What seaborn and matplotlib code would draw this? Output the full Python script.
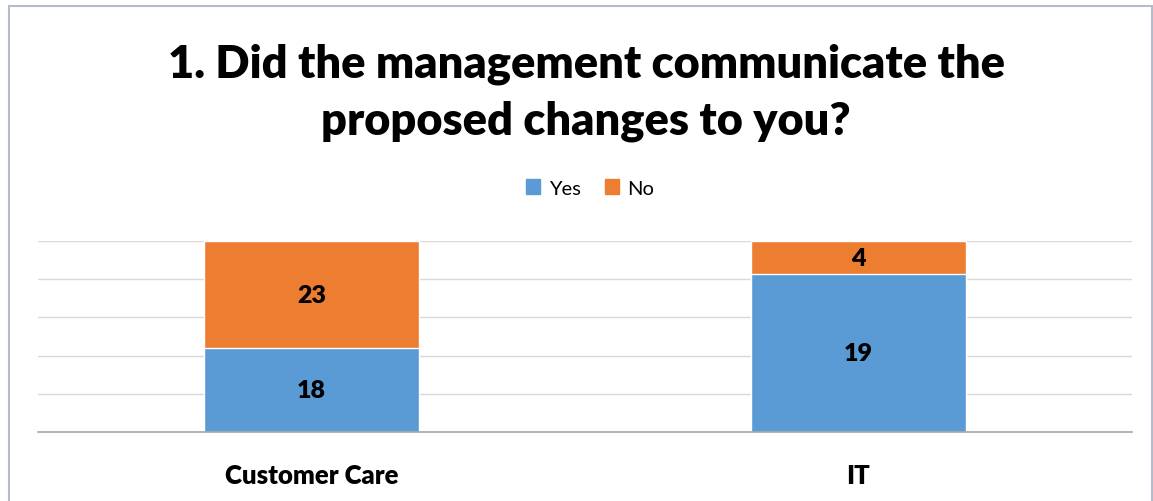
import matplotlib
matplotlib.use("Agg")
import matplotlib.pyplot as plt
import seaborn as sns
import pandas as pd
from matplotlib.patches import Rectangle

# survey counts
departments = ["Customer Care", "IT"]
yes_counts = [18, 19]
no_counts = [23, 4]

df = pd.DataFrame({"dept": departments, "yes": yes_counts, "no": no_counts})
df["total"] = df["yes"] + df["no"]
df["yes_pct"] = df["yes"] / df["total"] * 100
df["all_pct"] = (df["yes"] + df["no"]) / df["total"] * 100

sns.set_style("white")
plt.rcParams["font.family"] = ["Lato", "DejaVu Sans"]
plt.rcParams["text.color"] = "black"
plt.rcParams["xtick.color"] = "black"

blue = "#5B9BD5"
orange = "#ED7D31"

fig = plt.figure(figsize=(11.53, 5.02), dpi=100)
ax = fig.add_axes([38 / 1153, 1 - 433 / 502, (1132 - 38) / 1153, (433 - 242) / 502])

# orange = full stack, blue drawn over it
sns.barplot(data=df, x="dept", y="all_pct", color=orange, width=0.393,
            saturation=1, edgecolor="white", linewidth=1, ax=ax)
sns.barplot(data=df, x="dept", y="yes_pct", color=blue, width=0.393,
            saturation=1, edgecolor="white", linewidth=1, ax=ax)

ax.set_ylim(0, 100)
ax.set_xlim(-0.5, 1.5)
ax.set_yticks([0, 20, 40, 60, 80, 100])
ax.set_yticklabels([])
ax.tick_params(axis="y", length=0)
ax.tick_params(axis="x", length=0, pad=22)
ax.yaxis.grid(True, color="#D9D9D9", linewidth=1)
ax.set_axisbelow(True)
for s in ["left", "right", "top"]:
    ax.spines[s].set_visible(False)
ax.spines["bottom"].set_color("#A6A6A6")
ax.spines["bottom"].set_linewidth(1.2)
ax.set_xlabel("")
ax.set_ylabel("")
for lab in ax.get_xticklabels():
    lab.set_fontsize(18.5)
    lab.set_fontweight("heavy")

# value labels
for i, row in df.iterrows():
    ax.text(i, row["yes_pct"] / 2, str(row["yes"]), ha="center", va="center",
            fontsize=18, fontweight="heavy", color="black")
    ax.text(i, row["yes_pct"] + (100 - row["yes_pct"]) / 2, str(row["no"]),
            ha="center", va="center", fontsize=18, fontweight="heavy", color="black")

# legend
handles = [Rectangle((0, 0), 1, 1, color=blue), Rectangle((0, 0), 1, 1, color=orange)]
fig.legend(handles, ["Yes", "No"], loc="center", bbox_to_anchor=(590 / 1153, 1 - 189 / 502),
           ncol=2, frameon=False, fontsize=14.5, handlelength=0.7, handleheight=0.7,
           handletextpad=0.4, columnspacing=1.2)

fig.text(586 / 1153, 1 - 93 / 502,
         "1. Did the management communicate the\nproposed changes to you?",
         ha="center", va="center", fontsize=32.5, fontweight="heavy", linespacing=1.47)

# chart border
fig.patches.append(Rectangle((9 / 1153, -0.05), 1143 / 1153, 1 - 7 / 502 + 0.05,
                             transform=fig.transFigure, fill=False,
                             edgecolor="#B4BCCB", linewidth=1.5))

fig.savefig("out.png", dpi=100)
